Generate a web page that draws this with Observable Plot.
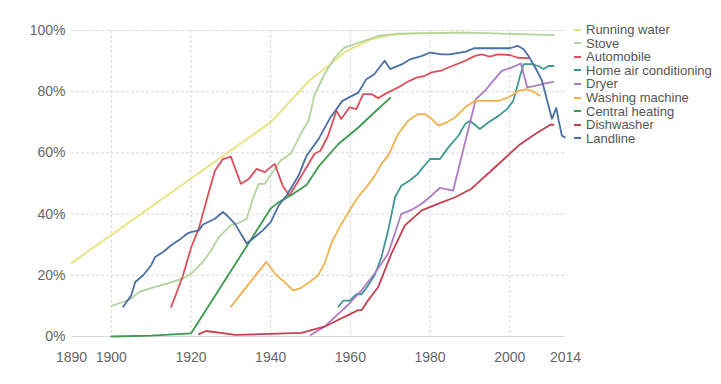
<!DOCTYPE html>
<html>
<head>
<meta charset="utf-8">
<script src="https://cdn.jsdelivr.net/npm/d3@7"></script>
<script src="https://cdn.jsdelivr.net/npm/@observablehq/plot@0.6"></script>
<style>
  html, body { margin: 0; padding: 0; background: #fff; }
  #wrap { position: relative; width: 721px; height: 384px; font-family: "Liberation Sans", Arial, sans-serif; }
  #legend { position: absolute; left: 574px; top: 23px; font-size: 13px; color: #555; }
  #legend .row { height: 13.6px; line-height: 13.6px; white-space: nowrap; }
  #legend .sw { display: inline-block; width: 7px; height: 2px; vertical-align: middle; margin-right: 5px; position: relative; top: -1px; }
</style>
</head>
<body>
<div id="wrap"><div id="chart"></div><div id="legend"></div></div>
<script>
// ---- data ----
const seriesNames = ["Running water", "Stove", "Automobile", "Home air conditioning", "Dryer", "Washing machine", "Central heating", "Dishwasher", "Landline"];
const seriesColors = ["#e6e27c", "#b3d49e", "#d9505a", "#3f9797", "#ad7bc4", "#f0b24e", "#3c9a4e", "#c5404e", "#4a6ea6"];

const runningWaterYears = [1890, 1940, 1945, 1950, 1955, 1959, 1965, 1970, 1975, 1980, 1989];
const runningWaterVals  = [24, 70, 77, 84, 89, 93.3, 97, 98.5, 99, 99.2, 99.4];

const stoveYears = [1900, 1903, 1905, 1907, 1911, 1914, 1918, 1920, 1923, 1925, 1927, 1930, 1932.5, 1934, 1935.5, 1937, 1938.5, 1940.5, 1942.5, 1945, 1948, 1949.5, 1951, 1953.5, 1956, 1958.5, 1962, 1967, 1972, 1990, 2011];
const stoveVals  = [10, 11.3, 12.4, 14.6, 16.2, 17.3, 19, 20.5, 24.4, 28, 32.5, 36.3, 37.4, 38.5, 45, 49.9, 49.9, 53.7, 57.5, 59.7, 67.3, 70.5, 79, 85.7, 91, 94.4, 96, 98.2, 99, 99.3, 98.5];

const automobileYears = [1915, 1916, 1918, 1920, 1922, 1924, 1926, 1928, 1930, 1932.5, 1934.5, 1936.5, 1938.5, 1941, 1943, 1944.7, 1947, 1949, 1951, 1952.5, 1954.4, 1956.5, 1957.7, 1959.8, 1961.5, 1963.2, 1965.3, 1967, 1968.6, 1970.3, 1972, 1974, 1976.6, 1978.7, 1980.4, 1983, 1984.6, 1988.8, 1991.3, 1993, 1995, 1997, 2000, 2002, 2005];
const automobileVals  = [9.7, 13, 20, 29, 35.5, 45, 54.2, 58, 58.8, 49.9, 51.5, 54.8, 53.7, 56.4, 49.3, 46.1, 51, 55.3, 59.7, 60.7, 65.6, 73.8, 71.1, 74.9, 74.3, 79.2, 79.2, 77.9, 79.2, 80.3, 81.4, 83, 84.6, 85.2, 86.3, 87, 87.9, 90.1, 91.7, 92.2, 91.5, 92.2, 92, 91.1, 91];

const airConYears = [1957, 1958.2, 1959.8, 1961.5, 1962.8, 1964.5, 1966.1, 1967.8, 1969.5, 1971.2, 1972.8, 1974.9, 1977, 1977.9, 1980, 1982.5, 1984.6, 1987.1, 1988.8, 1990, 1992.5, 1994.7, 1997.2, 1999.3, 2000.9, 2002.6, 2003.5, 2005.5, 2007.2, 2008.5, 2009.7, 2011];
const airConVals  = [9.7, 11.7, 11.7, 13.8, 13.8, 16.8, 20, 26, 34.7, 45.5, 49.3, 51, 53.2, 54.8, 58, 58, 61.8, 65.6, 69.4, 70.5, 67.8, 70, 72.1, 74.3, 77, 85.2, 89, 89, 88.4, 87.4, 88.4, 88.4];

const dryerYears = [1950, 1953.5, 1956.5, 1959.4, 1962.8, 1966.1, 1969.5, 1972.8, 1975.4, 1977.9, 1980.4, 1982.5, 1985.8, 1991.5, 1993.8, 1995.9, 1998, 2000.5, 2002.8, 2004.4, 2006.4, 2008.9, 2011];
const dryerVals  = [0.5, 3.2, 6.8, 10.3, 15.1, 20.6, 27.1, 40.1, 41.4, 43.4, 46.1, 48.6, 47.7, 77.6, 80.3, 83.6, 86.8, 87.9, 89.2, 81.4, 81.9, 82.7, 83.2];

const washingYears = [1930, 1932.6, 1935.9, 1938.9, 1941.4, 1943.5, 1945.6, 1947.3, 1949.8, 1951.9, 1953.5, 1955.2, 1957.3, 1959.8, 1961.9, 1964, 1966.1, 1967.8, 1969.5, 1972, 1974.5, 1977, 1978.7, 1980.4, 1982.1, 1984.2, 1986.3, 1988.8, 1991.3, 1994.7, 1997.2, 1999.7, 2002.2, 2004.3, 2005.5, 2007.6];
const washingVals  = [9.7, 14, 19.5, 24.4, 20, 17.8, 15.1, 15.7, 17.8, 20, 23.8, 30.4, 35.8, 41.2, 45.5, 48.8, 52.5, 56.4, 59.1, 66.2, 70.5, 72.7, 72.7, 71.1, 68.9, 70, 71.6, 74.9, 77, 77, 77, 78.1, 80.3, 80.8, 80.3, 78.7];

const heatingYears = [1900, 1910, 1920, 1940, 1942, 1945, 1949, 1952, 1957, 1962, 1966, 1970];
const heatingVals  = [0, 0.3, 1, 41.8, 43.9, 46.1, 49.5, 55.5, 62.9, 68.3, 73.2, 78];

const dishwasherYears = [1922, 1923.8, 1928.4, 1931, 1947.7, 1950.2, 1953.5, 1956, 1959.4, 1961.9, 1962.8, 1964.5, 1967, 1970.3, 1973.7, 1977.9, 1982.1, 1986.3, 1990.4, 1996.3, 2002.2, 2006.4, 2010.2, 2011];
const dishwasherVals  = [0.8, 1.8, 1, 0.5, 1.2, 2.1, 3.2, 4.8, 7, 8.6, 8.6, 11.9, 16.2, 27.1, 36.3, 41.2, 43.4, 45.5, 48.3, 55.3, 62.4, 66.2, 69.2, 69.2];

const landlineYears = [1903, 1905, 1906, 1908, 1910, 1911, 1913, 1915, 1917, 1919, 1920, 1922, 1923, 1926, 1928, 1929, 1931, 1933, 1934, 1936, 1938, 1940, 1942, 1944, 1947, 1949, 1952, 1955, 1958, 1962, 1964, 1966, 1968.6, 1970, 1973, 1975, 1978, 1980, 1983, 1985, 1989, 1991, 2000, 2002, 2003.5, 2004.7, 2006.4, 2008.1, 2009.3, 2010.6, 2011.7, 2012.3, 2013.1, 2013.8];
const landlineVals  = [9.7, 13.5, 17.8, 20, 23.3, 26, 27.6, 29.8, 31.5, 33.6, 34.1, 34.7, 36.6, 38.5, 40.7, 39.6, 36.9, 32.5, 30.4, 32.5, 34.7, 37.4, 42.8, 46.1, 52.6, 59.1, 64.5, 71.6, 77, 79.7, 84.1, 85.7, 90.1, 87.4, 89, 90.6, 91.7, 92.8, 92.2, 92.2, 93.1, 94.2, 94.2, 95, 93.9, 91.7, 87.9, 83.6, 77.6, 71.1, 74.7, 70.5, 65.6, 65.1];

const xTickLabels = [1890, 1900, 1920, 1940, 1960, 1980, 2000, 2014];
const xGridYears = [1900, 1920, 1940, 1960, 1980, 2000];
const yTickValues = [0, 20, 40, 60, 80, 100];

// ---- build table ----
const seriesData = [
  [runningWaterYears, runningWaterVals],
  [stoveYears, stoveVals],
  [automobileYears, automobileVals],
  [airConYears, airConVals],
  [dryerYears, dryerVals],
  [washingYears, washingVals],
  [heatingYears, heatingVals],
  [dishwasherYears, dishwasherVals],
  [landlineYears, landlineVals]
];
const rows = [];
seriesData.forEach(([ys, vs], i) => {
  ys.forEach((yr, j) => rows.push({series: seriesNames[i], year: yr, value: vs[j]}));
});

const chart = Plot.plot({
  width: 721,
  height: 384,
  marginLeft: 71,
  marginRight: 156,
  marginTop: 30,
  marginBottom: 48,
  style: {fontFamily: "'Liberation Sans', Arial, sans-serif", fontSize: "14px", color: "#666", background: "#fff"},
  x: {domain: [1890, 2014]},
  y: {domain: [0, 100]},
  color: {domain: seriesNames, range: seriesColors},
  marks: [
    Plot.gridX(xGridYears, {stroke: "#d8d8d8", strokeOpacity: 1, strokeDasharray: "3,2"}),
    Plot.gridY(yTickValues.filter(d => d > 0), {stroke: "#d8d8d8", strokeOpacity: 1, strokeDasharray: "3,2"}),
    Plot.ruleY([0], {stroke: "#d8d8d8"}),
    Plot.axisX(xTickLabels, {tickSize: 0, tickPadding: 16, tickFormat: d => String(d), fontSize: 14, label: null}),
    Plot.axisY(yTickValues, {tickSize: 0, tickPadding: 6, tickFormat: d => d + "%", fontSize: 14, label: null}),
    Plot.lineY(rows, {x: "year", y: "value", z: "series", stroke: "series", strokeWidth: 1.8, strokeLinejoin: "round", curve: "linear"})
  ]
});
document.getElementById("chart").appendChild(chart);

const legend = document.getElementById("legend");
seriesNames.forEach((name, i) => {
  const row = document.createElement("div");
  row.className = "row";
  const sw = document.createElement("span");
  sw.className = "sw";
  sw.style.background = seriesColors[i];
  row.appendChild(sw);
  row.appendChild(document.createTextNode(name));
  legend.appendChild(row);
});
</script>
</body>
</html>
